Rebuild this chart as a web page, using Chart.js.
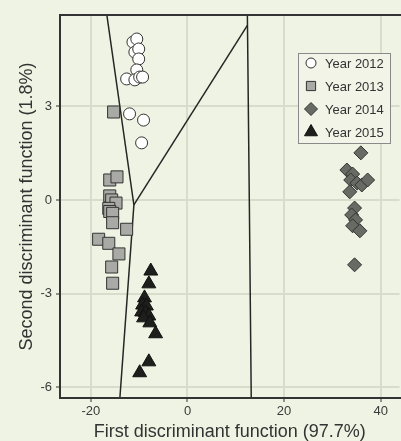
<!DOCTYPE html>
<html>
<head>
<meta charset="utf-8">
<script src="https://cdn.jsdelivr.net/npm/chart.js@4.4.0/dist/chart.umd.min.js"></script>
<style>
  html, body { margin: 0; padding: 0; background: #eff3e3; overflow: hidden; }
  #wrap { width: 401px; height: 441px; overflow: hidden; }
</style>
</head>
<body>
<div id="wrap"><canvas id="ldaChart" width="409" height="441"></canvas></div>
<script>
// === Data ===

const years = ["Year 2012", "Year 2013", "Year 2014", "Year 2015"];

const year2012 = [
  [-11.3, 5.06], [-10.5, 5.16], [-10.9, 4.74], [-10.1, 4.84], [-10.1, 4.52],
  [-10.5, 4.17], [-12.6, 3.88], [-10.9, 3.85], [-9.9, 3.94], [-9.3, 3.94],
  [-12.0, 2.76], [-9.1, 2.56], [-9.5, 1.83]
];

const year2013 = [
  [-15.3, 2.82], [-16.1, 0.64], [-14.6, 0.74], [-16.1, 0.13], [-15.7, 0.0],
  [-14.8, -0.1], [-16.3, -0.27], [-16.1, -0.37], [-15.5, -0.43], [-15.5, -0.73],
  [-12.6, -0.94], [-18.4, -1.26], [-16.3, -1.39], [-14.2, -1.73], [-15.7, -2.15],
  [-15.5, -2.67]
];

const year2014 = [
  [35.9, 1.51], [33.0, 0.96], [34.2, 0.83], [33.8, 0.64], [35.1, 0.54],
  [36.1, 0.48], [37.3, 0.64], [33.6, 0.26], [34.6, -0.26], [34.0, -0.48],
  [34.8, -0.64], [34.2, -0.83], [35.7, -0.99], [34.6, -2.08]
];

const year2015 = [
  [-7.6, -2.28], [-8.0, -2.69], [-8.9, -3.14], [-9.3, -3.37], [-8.5, -3.40],
  [-9.5, -3.59], [-8.7, -3.62], [-8.0, -3.72], [-9.1, -3.78], [-7.8, -3.94],
  [-6.6, -4.29], [-8.0, -5.19], [-9.9, -5.54]
];

// territorial map boundaries
const boundaryLeft = [[-16.7, 5.93], [-11.1, -0.16], [-14.0, -6.35]];
const boundaryMid = [[-11.1, -0.16], [12.4, 5.6]];
const boundaryRight = [[12.4, 5.93], [12.8, 0.0], [13.2, -6.35]];

const xTicks = [-20, 0, 20, 40];
const yTicks = [-6, -3, 0, 3];

// === Helpers ===

function toPoints(arr) {
  return arr.map(p => ({ x: p[0], y: p[1] }));
}

function lineSet(arr) {
  return {
    type: "line",
    data: toPoints(arr),
    borderColor: "#262626",
    borderWidth: 1.5,
    pointRadius: 0,
    fill: false,
    tension: 0
  };
}

const FONT = "'Liberation Sans', Arial, Helvetica, sans-serif";

// === Plugins ===

const bgPlugin = {
  id: "bg",
  beforeDraw(chart) {
    const ctx = chart.ctx;
    ctx.save();
    ctx.fillStyle = "#eff3e3";
    ctx.fillRect(0, 0, chart.width, chart.height);
    ctx.restore();
  }
};

const framePlugin = {
  id: "frame",
  afterDatasetsDraw(chart) {
    const { ctx, chartArea: a } = chart;
    ctx.save();
    ctx.strokeStyle = "#333";
    ctx.lineWidth = 2;
    ctx.beginPath();
    ctx.moveTo(a.right + 2, a.top);
    ctx.lineTo(a.left, a.top);
    ctx.lineTo(a.left, a.bottom);
    ctx.lineTo(a.right + 2, a.bottom);
    ctx.stroke();
    ctx.restore();
  }
};

const legendBox = {
  id: "legendBox",
  afterDraw(chart) {
    const ctx = chart.ctx;
    const x0 = 298, y0 = 53, w = 92, h = 90;
    ctx.save();
    ctx.fillStyle = "#f1f4e7";
    ctx.fillRect(x0, y0, w, h);
    ctx.strokeStyle = "#8a8a8a";
    ctx.lineWidth = 1;
    ctx.strokeRect(x0 + 0.5, y0 + 0.5, w, h);
    ctx.font = "13px " + FONT;
    ctx.textBaseline = "middle";
    const sizes = [5, 6.5, 6.5, 7.5];
    for (let i = 0; i < 4; i++) {
      const ds = chart.data.datasets[i];
      const cy = y0 + 10 + i * 23;
      ctx.fillStyle = ds.backgroundColor;
      ctx.strokeStyle = ds.borderColor;
      ctx.lineWidth = 1;
      Chart.helpers.drawPoint(ctx, { pointStyle: ds.pointStyle, radius: sizes[i], borderWidth: 1 }, 311, cy);
      ctx.fillStyle = "#333";
      ctx.fillText(ds.label, 325, cy + 1);
    }
    ctx.restore();
  }
};

// === Chart ===

function renderChart() {
  const ctx = document.getElementById("ldaChart");

  return new Chart(ctx, {
    type: "scatter",
    data: {
      datasets: [
        {
          label: years[0], data: toPoints(year2012), pointStyle: "circle",
          pointRadius: 6, backgroundColor: "#ffffff", borderColor: "#333", borderWidth: 1
        },
        {
          label: years[1], data: toPoints(year2013), pointStyle: "rect",
          pointRadius: 8.5, backgroundColor: "#a9aaa5", borderColor: "#333", borderWidth: 1
        },
        {
          label: years[2], data: toPoints(year2014), pointStyle: "rectRot",
          pointRadius: 7, backgroundColor: "#686a64", borderColor: "#333", borderWidth: 1
        },
        {
          label: years[3], data: toPoints(year2015), pointStyle: "triangle",
          pointRadius: 8, backgroundColor: "#1e1f1c", borderColor: "#111", borderWidth: 1
        },
        lineSet(boundaryLeft),
        lineSet(boundaryMid),
        lineSet(boundaryRight)
      ]
    },
    options: {
      responsive: false,
      animation: false,
      layout: { padding: { top: 15, right: 0, left: 0, bottom: 0 } },
      plugins: {
        legend: { display: false },
        tooltip: { enabled: false }
      },
      scales: {
        x: {
          type: "linear",
          min: -26.4,
          max: 43.9,
          afterBuildTicks: s => { s.ticks = xTicks.map(v => ({ value: v })); },
          afterFit: s => { s.height = 43; },
          border: { display: false },
          grid: { color: "#d8dccb", lineWidth: 2, tickLength: 4, tickColor: "#333", tickWidth: 1 },
          ticks: { color: "#3a3a3a", font: { size: 13, family: FONT }, padding: 2, maxRotation: 0 },
          title: {
            display: true,
            text: "First discriminant function (97.7%)",
            color: "#333",
            font: { size: 18, family: FONT, lineHeight: 1 },
            padding: { top: 0, bottom: 0 }
          }
        },
        y: {
          type: "linear",
          min: -6.35,
          max: 5.93,
          afterBuildTicks: s => { s.ticks = yTicks.map(v => ({ value: v })); },
          afterFit: s => { s.width = 60; },
          border: { display: false },
          grid: { color: "#d8dccb", lineWidth: 2, tickLength: 4, tickColor: "#333", tickWidth: 1 },
          ticks: { color: "#3a3a3a", font: { size: 13, family: FONT }, padding: 4 },
          title: {
            display: true,
            text: "Second discriminant function (1.8%)",
            color: "#333",
            font: { size: 18, family: FONT, lineHeight: 1 },
            padding: { top: 18, bottom: 0 }
          }
        }
      }
    },
    plugins: [bgPlugin, framePlugin, legendBox]
  });
}

// === Entry Point ===

document.addEventListener("DOMContentLoaded", () => {
  renderChart();
});
</script>
</body>
</html>
